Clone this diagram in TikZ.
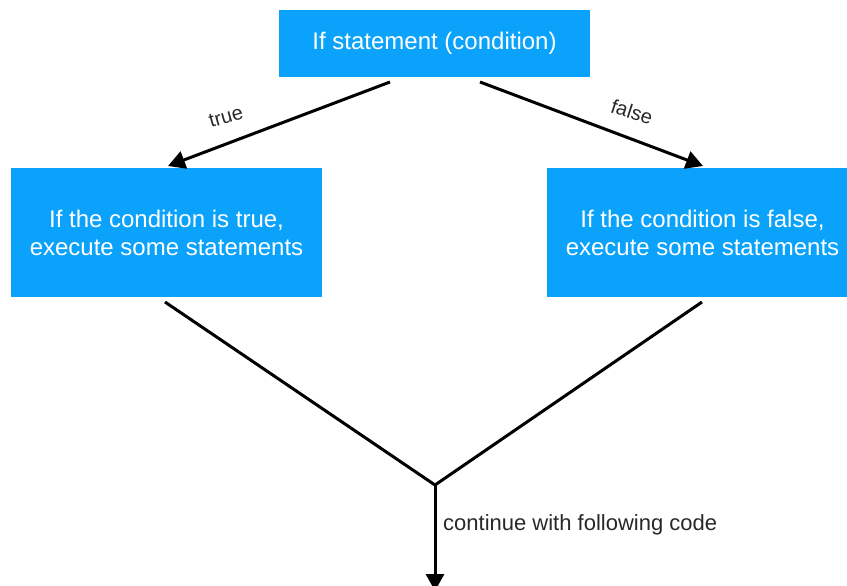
\documentclass[tikz,border=0pt]{standalone}
\usepackage{fontspec}
\setmainfont{Liberation Sans}
\usetikzlibrary{arrows.meta}
\definecolor{boxblue}{RGB}{10,162,250}
\definecolor{labelgray}{RGB}{40,40,40}
\tikzset{
  bluebox/.style={fill=boxblue, draw=none, text=white, align=center,
    inner sep=0pt, font=\fontsize{24}{28}\selectfont},
  flowline/.style={draw=black, line width=3pt},
  flowarrow/.style={flowline, -{Triangle[length=17pt,width=18pt]}},
  edgelabel/.style={text=labelgray, font=\fontsize{20}{24}\selectfont, inner sep=0pt},
}
\begin{document}
\begin{tikzpicture}[x=1pt,y=-1pt]
\useasboundingbox (0,0) rectangle (847,586);
\node[bluebox, minimum width=311pt, minimum height=67pt] (top) at (434.5,43.5) {If statement (condition)};
\node[bluebox, minimum width=311pt, minimum height=129pt] (left) at (166.5,232.5) {If the condition is true,\\execute some statements};
\node[bluebox, minimum width=311pt, minimum height=129pt] (right) at (702.5,232.5) {If the condition is false,\\execute some statements};
\coordinate (ts) at (390,82);
\coordinate (fs) at (480,82);
\coordinate (tt) at (168,166);
\coordinate (ft) at (703,166);
\coordinate (ls) at (165,302);
\coordinate (rs) at (702,302);
\coordinate (join) at (435,485);
\coordinate (end) at (435,591);
\draw[flowarrow] (ts) -- (tt);
\draw[flowarrow] (fs) -- (ft);
\draw[flowline, line join=miter] (ls) -- (join) -- (rs);
\draw[flowarrow] (join) -- (end);
\node[edgelabel, rotate=16] (tl) at (226,117) {true};
\node[edgelabel, rotate=-18] (fl) at (632,112) {false};
\node[text=labelgray, font=\fontsize{22}{26}\selectfont, anchor=west, inner sep=0pt] (cl) at (443,525) {continue with following code};
\end{tikzpicture}
\end{document}
